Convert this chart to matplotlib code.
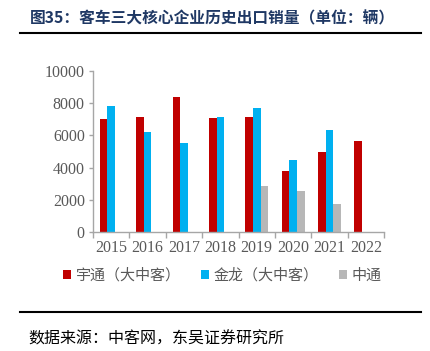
import numpy as np
import matplotlib
matplotlib.use("Agg")
import matplotlib.pyplot as plt
from matplotlib.lines import Line2D
from matplotlib.patches import Patch

# ===== DATA =====
years = ["2015", "2016", "2017", "2018", "2019", "2020", "2021", "2022"]
yutong = [7000, 7120, 8400, 7080, 7120, 3790, 4950, 5650]
kinglong = [7850, 6200, 5500, 7120, 7680, 4490, 6310, np.nan]
zhongtong = [np.nan, np.nan, np.nan, np.nan, 2830, 2520, 1740, np.nan]
series_names = ["宇通（大中客）", "金龙（大中客）", "中通"]
colors = ["#c00000", "#00b0f0", "#b7b7b7"]

TITLE = "图35：客车三大核心企业历史出口销量（单位：辆）"
SOURCE = "数据来源：中客网，东吴证券研究所"

CJK = ["Noto Sans CJK SC", "DejaVu Sans"]
SERIF = "Liberation Serif"
GRAY_TXT = "#595959"
AXIS_COL = "#a6a6a6"

fig = plt.figure(figsize=(4.31, 3.51), dpi=100)
ax = fig.add_axes([0.216, 0.339, 0.675, 0.459])

x = np.arange(len(years))
w = 0.21
for i, vals in enumerate([yutong, kinglong, zhongtong]):
    ax.bar(x + (i - 1) * w, vals, width=w, color=colors[i], edgecolor="none")

ax.set_xlim(-0.5, len(years) - 0.5)
ax.set_ylim(0, 10000)
ax.set_yticks(np.arange(0, 10001, 2000))
ax.set_xticks(x)
ax.set_xticklabels(years)
ax.set_xticks(np.arange(-0.5, len(years), 1), minor=True)

for s in ["top", "right"]:
    ax.spines[s].set_visible(False)
for s in ["left", "bottom"]:
    ax.spines[s].set_color(AXIS_COL)
    ax.spines[s].set_linewidth(1.0)

ax.tick_params(axis="x", which="major", length=0, pad=6)
ax.tick_params(axis="x", which="minor", length=4, color=AXIS_COL, width=1.0)
ax.tick_params(axis="y", length=3, color=AXIS_COL, width=1.0, pad=3)
for lab in ax.get_xticklabels() + ax.get_yticklabels():
    lab.set_fontfamily(SERIF)
    lab.set_fontsize(11.5)
    lab.set_color(GRAY_TXT)

# legend
handles = [Patch(facecolor=c, edgecolor="none") for c in colors]
leg = fig.legend(handles, series_names, loc="center", bbox_to_anchor=(0.516, 0.215),
                 ncol=3, frameon=False, handlelength=0.55, handleheight=0.55,
                 handletextpad=0.3, columnspacing=1.35,
                 prop={"family": CJK, "size": 10.8})
for t in leg.get_texts():
    t.set_color(GRAY_TXT)

# title, rules and source
fig.text(0.07, 0.948, TITLE, family=CJK, fontsize=11.3, fontweight="bold",
         color="#1f3864", va="center", ha="left")
fig.add_artist(Line2D([0.046, 0.977], [0.906, 0.906], color="black", lw=1.5))
fig.add_artist(Line2D([0.046, 0.977], [0.111, 0.111], color="black", lw=1.5))
fig.text(0.065, 0.035, SOURCE, family=CJK, fontsize=11.5, color="black",
         va="center", ha="left")

fig.savefig("out.png", dpi=100)
